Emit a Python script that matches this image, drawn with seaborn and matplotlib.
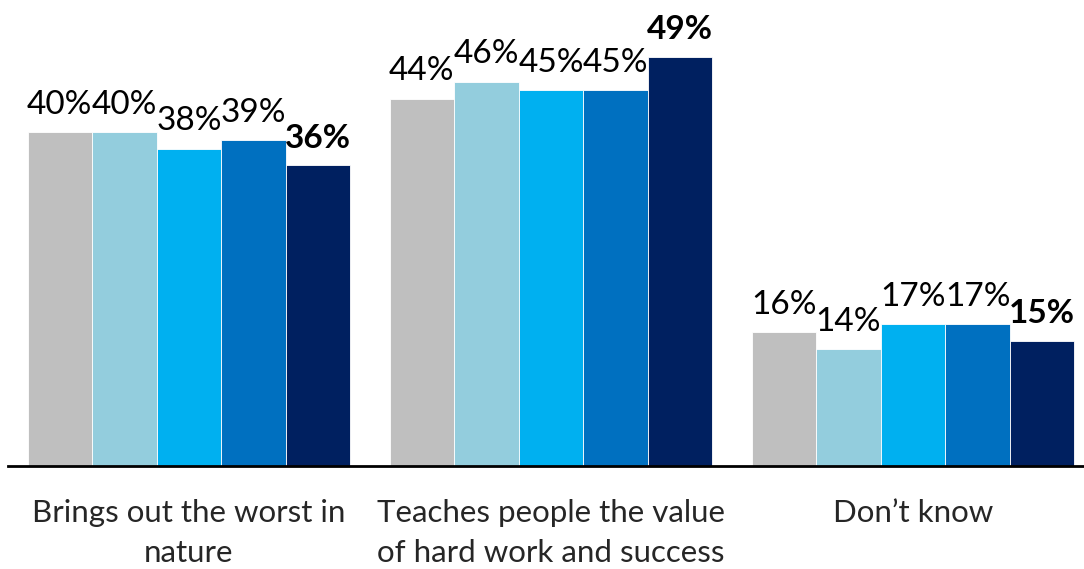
import pandas as pd
import matplotlib.pyplot as plt
import seaborn as sns

# data
categories = ["Brings out the worst in\nnature",
              "Teaches people the value\nof hard work and success",
              "Don\u2019t know"]
series = ["s1", "s2", "s3", "s4", "s5"]
values = {
    "s1": [40, 44, 16],
    "s2": [40, 46, 14],
    "s3": [38, 45, 17],
    "s4": [39, 45, 17],
    "s5": [36, 49, 15],
}
colors = ["#BFBFBF", "#93CDDD", "#00B0F0", "#0070C0", "#002060"]

rows = []
for s in series:
    for c, v in zip(categories, values[s]):
        rows.append({"category": c, "series": s, "value": v})
df = pd.DataFrame(rows)

sns.set_style("white")
plt.rcParams['font.family'] = ['Lato', 'DejaVu Sans']

fig = plt.figure(figsize=(10.84, 5.69), dpi=100)
ax = fig.add_axes([8 / 1084, 103 / 569, 1076 / 1084, 466 / 569])

sns.barplot(data=df, x="category", y="value", hue="series", order=categories,
            hue_order=series, palette=colors, saturation=1, width=0.892, gap=0,
            edgecolor="white", linewidth=0.6, legend=False, ax=ax)

for i, cont in enumerate(ax.containers):
    weight = "bold" if i == len(ax.containers) - 1 else "normal"
    ax.bar_label(cont, labels=[f"{v:.0f}%" for v in values[series[i]]],
                 padding=9, fontsize=24, fontweight=weight, color="black")

ax.set_xlim(-0.5, -0.5 + 1076 / 362)
ax.set_ylim(0, 466 / 8.35)
ax.set_xlabel("")
ax.set_ylabel("")
ax.set_yticks([])
ax.tick_params(axis="x", length=0, labelsize=22.5, pad=24)
for lbl in ax.get_xticklabels():
    lbl.set_linespacing(1.5)
for side in ["top", "right", "left"]:
    ax.spines[side].set_visible(False)
ax.spines["bottom"].set_color("black")
ax.spines["bottom"].set_linewidth(2)

plt.savefig("out.png", dpi=100)
